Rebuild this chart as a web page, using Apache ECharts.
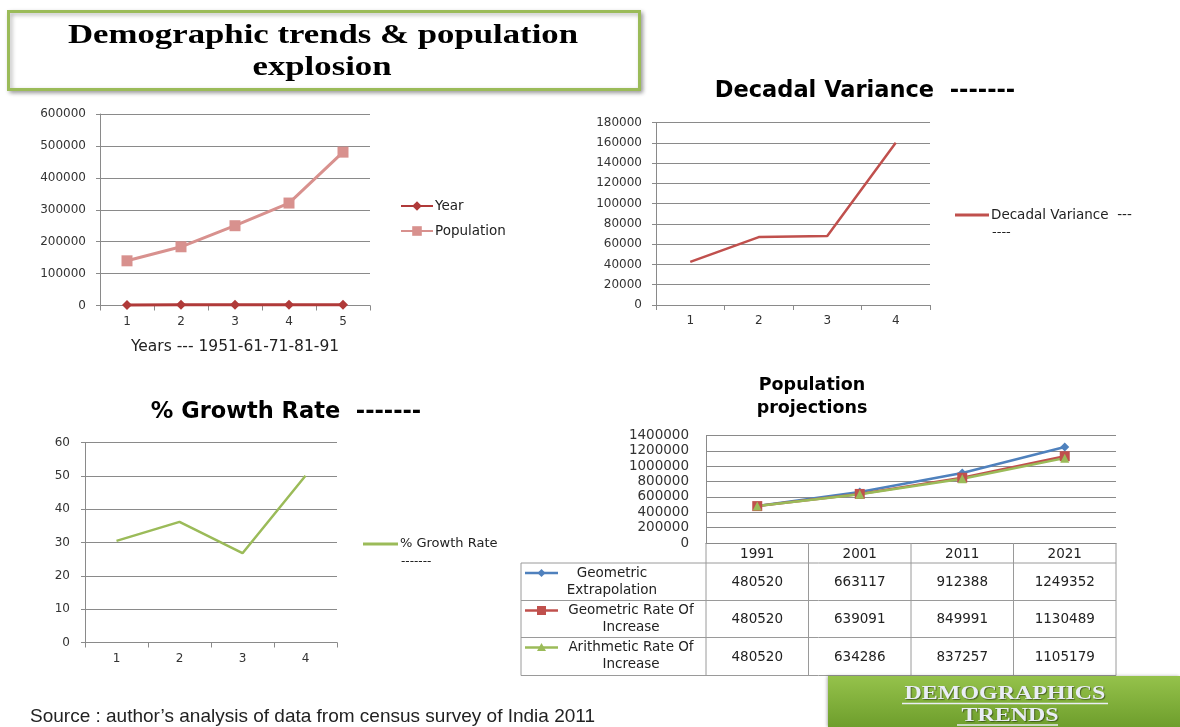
<!DOCTYPE html>
<html><head><meta charset="utf-8">
<script src="https://cdn.jsdelivr.net/npm/echarts@6/dist/echarts.min.js"></script>
<style>html,body{margin:0;padding:0;background:#fff}#c{width:1180px;height:727px}</style>
</head><body><div id="c"></div>
<script>
// ---------- DATA ----------
const popCategories = ['1', '2', '3', '4', '5'];
const yearValues = [1951, 1961, 1971, 1981, 1991];
const populationValues = [140000, 184000, 250000, 321000, 480520];
const decadalCategories = ['1', '2', '3', '4'];
const decadalValues = [42500, 67000, 68000, 160000];
const growthCategories = ['1', '2', '3', '4'];
const growthValues = [30.5, 36.2, 26.8, 50];
const projectionYears = ['1991', '2001', '2011', '2021'];
const geometricExtrapolation = [480520, 663117, 912388, 1249352];
const geometricRate = [480520, 639091, 849991, 1130489];
const arithmeticRate = [480520, 634286, 837257, 1105179];
const projectionSeriesNames = ['Geometric Extrapolation', 'Geometric Rate Of Increase', 'Arithmetic Rate Of Increase'];
const projectionRowLabels = [['Geometric', 'Extrapolation'], ['Geometric Rate Of', 'Increase'], ['Arithmetic Rate Of', 'Increase']];

// ---------- STYLE ----------
const FONT = '"DejaVu Sans", Verdana, sans-serif';
const SERIF = '"Liberation Serif", "Times New Roman", serif';
const axisColor = '#8a8a8a';
const labelColor = '#333';
const projColors = ['#4f81bd', '#c0504d', '#9bbb59'];
const projSymbols = ['diamond', 'rect', 'triangle'];
const projSymbolSizes = [9, 10, 9];
const plain = function (v) { return String(v); };

function catAxis(gi, data, margin, extra) {
  return Object.assign({
    type: 'category', gridIndex: gi, data: data, boundaryGap: true,
    axisLine: { show: true, lineStyle: { color: axisColor, width: 1 } },
    axisTick: { show: true, length: 5, lineStyle: { color: axisColor } },
    axisLabel: { fontFamily: FONT, fontSize: 12, color: labelColor, margin: margin },
    splitLine: { show: false }
  }, extra || {});
}
function valAxis(gi, max, interval, margin, tick, fontSize) {
  return {
    type: 'value', gridIndex: gi, min: 0, max: max, interval: interval,
    axisLine: { show: true, lineStyle: { color: axisColor, width: 1 } },
    axisTick: { show: tick, length: 4, lineStyle: { color: axisColor } },
    axisLabel: { fontFamily: FONT, fontSize: fontSize || 12, color: labelColor, margin: margin, formatter: plain },
    splitLine: { show: true, lineStyle: { color: axisColor, width: 1 } }
  };
}

const chart = echarts.init(document.getElementById('c'), null, { renderer: 'canvas' });

// ---------- GRAPHICS (title box, table, banner, notes) ----------
const g = [];
g.push({ type: 'rect', z: 0, shape: { x: 8.5, y: 11.5, width: 631, height: 78 },
  style: { fill: '#fff', stroke: '#9bbb59', lineWidth: 3, shadowBlur: 4, shadowOffsetX: 2, shadowOffsetY: 2, shadowColor: 'rgba(0,0,0,0.3)' } });
g.push({ type: 'text', x: 323, y: 36, scaleX: 1.287, z: 5,
  style: { text: 'Demographic trends & population', fontFamily: SERIF, fontWeight: 'bold', fontSize: 27, fill: '#000', align: 'center', verticalAlign: 'middle' } });
g.push({ type: 'text', x: 322, y: 68, scaleX: 1.287, z: 5,
  style: { text: 'explosion', fontFamily: SERIF, fontWeight: 'bold', fontSize: 27, fill: '#000', align: 'center', verticalAlign: 'middle' } });

// chart titles
g.push({ type: 'text', x: 865, y: 91, style: { text: 'Decadal Variance  -------', fontFamily: FONT, fontWeight: 'bold', fontSize: 22.5, fill: '#000', align: 'center', verticalAlign: 'middle' } });
g.push({ type: 'text', x: 286, y: 412, style: { text: '% Growth Rate  -------', fontFamily: FONT, fontWeight: 'bold', fontSize: 22.5, fill: '#000', align: 'center', verticalAlign: 'middle' } });
g.push({ type: 'text', x: 812, y: 385, style: { text: 'Population', fontFamily: FONT, fontWeight: 'bold', fontSize: 17.5, fill: '#000', align: 'center', verticalAlign: 'middle' } });
g.push({ type: 'text', x: 812, y: 408, style: { text: 'projections', fontFamily: FONT, fontWeight: 'bold', fontSize: 17.5, fill: '#000', align: 'center', verticalAlign: 'middle' } });

// legend continuation lines
g.push({ type: 'text', x: 992, y: 233, style: { text: '----', fontFamily: FONT, fontSize: 13, fill: '#222', align: 'left', verticalAlign: 'middle' } });
g.push({ type: 'text', x: 401, y: 562, style: { text: '-------', fontFamily: FONT, fontSize: 12, fill: '#222', align: 'left', verticalAlign: 'middle' } });

// table
const T = { left: 521, colLeft: 706, right: 1116, headTop: 543, headBottom: 563, rowBottoms: [600.5, 637.5, 675.5] };
const colW = (T.right - T.colLeft) / projectionYears.length;
const tblStroke = '#9a9a9a';
function hline(x1, x2, y) { g.push({ type: 'line', z: 1, shape: { x1: x1, y1: y, x2: x2, y2: y }, style: { stroke: tblStroke, lineWidth: 1 } }); }
function vline(x, y1, y2) { g.push({ type: 'line', z: 1, shape: { x1: x, y1: y1, x2: x, y2: y2 }, style: { stroke: tblStroke, lineWidth: 1 } }); }
hline(T.left, T.right, T.headBottom);
T.rowBottoms.forEach(function (y) { hline(T.left, T.right, y); });
vline(T.left, T.headBottom, T.rowBottoms[2]);
for (let i = 0; i <= projectionYears.length; i++) vline(T.colLeft + i * colW, T.headTop, T.rowBottoms[2]);
const projData = [geometricExtrapolation, geometricRate, arithmeticRate];
const labelCenters = [612, 631, 631];
projData.forEach(function (arr, r) {
  const top = r === 0 ? T.headBottom : T.rowBottoms[r - 1];
  const bot = T.rowBottoms[r];
  const mid = (top + bot) / 2;
  arr.forEach(function (v, c) {
    g.push({ type: 'text', z: 3, x: T.colLeft + (c + 0.5) * colW, y: mid + 0.5,
      style: { text: String(v), fontFamily: FONT, fontSize: 13.5, fill: '#222', align: 'center', verticalAlign: 'middle' } });
  });
  const iy = top + 10;
  g.push({ type: 'line', z: 3, shape: { x1: 525, y1: iy, x2: 558, y2: iy }, style: { stroke: projColors[r], lineWidth: 2.5 } });
  if (r === 0) {
    g.push({ type: 'polygon', z: 4, shape: { points: [[541.5, iy - 4], [545.5, iy], [541.5, iy + 4], [537.5, iy]] }, style: { fill: projColors[r] } });
  } else if (r === 1) {
    g.push({ type: 'rect', z: 4, shape: { x: 537, y: iy - 4.5, width: 9, height: 9 }, style: { fill: projColors[r] } });
  } else {
    g.push({ type: 'polygon', z: 4, shape: { points: [[541.5, iy - 4.5], [546, iy + 3.5], [537, iy + 3.5]] }, style: { fill: projColors[r] } });
  }
  g.push({ type: 'text', z: 3, x: labelCenters[r], y: iy, style: { text: projectionRowLabels[r][0], fontFamily: FONT, fontSize: 13.5, fill: '#222', align: 'center', verticalAlign: 'middle' } });
  g.push({ type: 'text', z: 3, x: labelCenters[r], y: iy + 17, style: { text: projectionRowLabels[r][1], fontFamily: FONT, fontSize: 13.5, fill: '#222', align: 'center', verticalAlign: 'middle' } });
});

// banner
g.push({ type: 'rect', z: 1, shape: { x: 828, y: 676, width: 352, height: 51 },
  style: { fill: new echarts.graphic.LinearGradient(0, 0, 0, 1, [{ offset: 0, color: '#95c24b' }, { offset: 1, color: '#6e9e2c' }]),
    shadowBlur: 3, shadowOffsetX: -1, shadowColor: 'rgba(0,0,0,0.3)' } });
g.push({ type: 'text', z: 3, x: 1005, y: 694, scaleX: 1.33,
  style: { text: 'DEMOGRAPHICS', fontFamily: SERIF, fontWeight: 'bold', fontSize: 18, fill: '#e9edf5', align: 'center', verticalAlign: 'middle',
    textShadowColor: 'rgba(0,0,0,0.45)', textShadowBlur: 1, textShadowOffsetX: 1, textShadowOffsetY: 1 } });
g.push({ type: 'text', z: 3, x: 1010, y: 716, scaleX: 1.33,
  style: { text: 'TRENDS', fontFamily: SERIF, fontWeight: 'bold', fontSize: 18, fill: '#e9edf5', align: 'center', verticalAlign: 'middle',
    textShadowColor: 'rgba(0,0,0,0.45)', textShadowBlur: 1, textShadowOffsetX: 1, textShadowOffsetY: 1 } });
g.push({ type: 'line', z: 3, shape: { x1: 902, y1: 703.5, x2: 1108, y2: 703.5 }, style: { stroke: '#e9edf5', lineWidth: 1.3 } });
g.push({ type: 'line', z: 3, shape: { x1: 957, y1: 725, x2: 1058, y2: 725 }, style: { stroke: '#e9edf5', lineWidth: 1.3 } });

// source
g.push({ type: 'text', x: 30, y: 717,
  style: { text: 'Source : author\u2019s analysis of data from census survey of India 2011', fontFamily: '"Liberation Sans Narrow", "Arial Narrow", sans-serif', fontSize: 19, fill: '#222', align: 'left', verticalAlign: 'middle' } });

const legendText = { fontFamily: FONT, fontSize: 13.5, color: '#222', padding: [0, 0, 0, -3] };

const option = {
  animation: false,
  backgroundColor: '#fff',
  grid: [
    { left: 100, top: 114, width: 270, height: 191.5 },
    { left: 656, top: 122.5, width: 274, height: 182.5 },
    { left: 85, top: 442.5, width: 252, height: 200 },
    { left: 706, top: 435.5, width: 410, height: 107.5 }
  ],
  xAxis: [
    catAxis(0, popCategories, 10, { name: 'Years --- 1951-61-71-81-91', nameLocation: 'middle', nameGap: 33,
      nameTextStyle: { fontFamily: FONT, fontSize: 15.5, color: '#222' } }),
    catAxis(1, decadalCategories, 10),
    catAxis(2, growthCategories, 10),
    catAxis(3, projectionYears, 4, { axisTick: { show: false }, axisLabel: { fontFamily: FONT, fontSize: 13.5, color: '#222', margin: 4 } })
  ],
  yAxis: [
    valAxis(0, 600000, 100000, 14, true),
    valAxis(1, 180000, 20000, 14, true),
    valAxis(2, 60, 10, 15, true),
    valAxis(3, 1400000, 200000, 17, false, 13.5)
  ],
  legend: [
    { data: ['Year', 'Population'], orient: 'vertical', left: 400, top: 199, itemWidth: 32, itemHeight: 12, itemGap: 11, padding: 0, textStyle: legendText },
    { data: ['Decadal Variance  ---'], orient: 'vertical', left: 955, top: 208, icon: 'rect', itemWidth: 34, itemHeight: 3, padding: 0, textStyle: legendText },
    { data: ['% Growth Rate'], orient: 'vertical', left: 363, top: 537.5, icon: 'rect', itemWidth: 35, itemHeight: 3, padding: 0, textStyle: Object.assign({}, legendText, { fontSize: 13 }) }
  ],
  series: [
    { name: 'Year', type: 'line', xAxisIndex: 0, yAxisIndex: 0, data: yearValues, symbol: 'diamond', symbolSize: 10,
      lineStyle: { color: '#b03a39', width: 3 }, itemStyle: { color: '#b03a39' } },
    { name: 'Population', type: 'line', xAxisIndex: 0, yAxisIndex: 0, data: populationValues, symbol: 'rect', symbolSize: 11,
      lineStyle: { color: '#d8918e', width: 3 }, itemStyle: { color: '#d8918e' } },
    { name: 'Decadal Variance  ---', type: 'line', xAxisIndex: 1, yAxisIndex: 1, data: decadalValues, symbol: 'none',
      lineStyle: { color: '#c0504d', width: 2.5 }, itemStyle: { color: '#c0504d' } },
    { name: '% Growth Rate', type: 'line', xAxisIndex: 2, yAxisIndex: 2, data: growthValues, symbol: 'none',
      lineStyle: { color: '#9bbb59', width: 2.5 }, itemStyle: { color: '#9bbb59' } }
  ].concat(projData.map(function (arr, i) {
    return { name: projectionSeriesNames[i], type: 'line', xAxisIndex: 3, yAxisIndex: 3, data: arr,
      symbol: projSymbols[i], symbolSize: projSymbolSizes[i],
      lineStyle: { color: projColors[i], width: 2.5 }, itemStyle: { color: projColors[i] } };
  })),
  graphic: g
};
chart.setOption(option);
</script>
</body></html>
